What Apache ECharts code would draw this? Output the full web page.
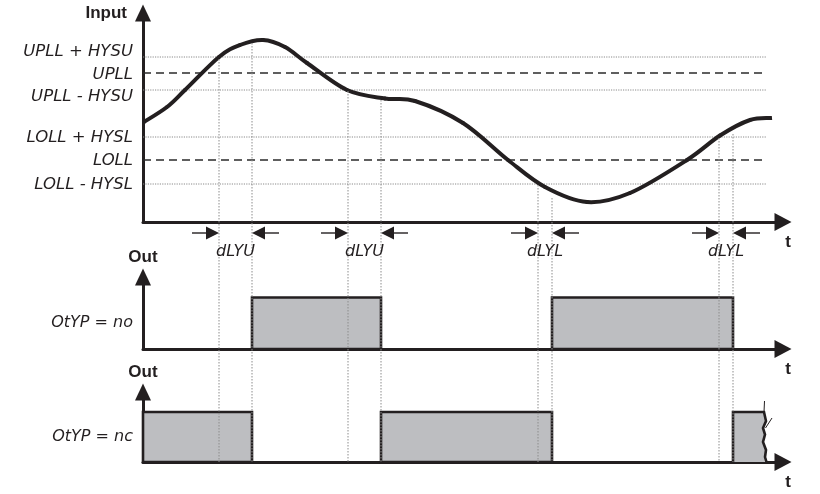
<!DOCTYPE html>
<html><head><meta charset="utf-8">
<script src="https://cdn.jsdelivr.net/npm/echarts@6/dist/echarts.min.js"></script>
<style>html,body{margin:0;padding:0;background:#fff}#c{width:820px;height:494px}</style>
</head><body><div id="c"></div>
<script>
// ---------- data ----------
const timeMax = 128;
const levelNames  = ['UPLL + HYSU', 'UPLL', 'UPLL - HYSU', 'LOLL + HYSL', 'LOLL', 'LOLL - HYSL'];
const levelValues = [82.5, 74.5, 66, 42.5, 31, 19];
const levelKinds  = ['hys', 'set', 'hys', 'hys', 'set', 'hys'];
const levelEnd = 124.8;
const curveTimes  = [0.2, 4.8, 8.4, 15.2, 19.4, 24, 28.4, 32.8, 40.8, 48.4, 54.4, 64, 73, 80.4, 88.8, 97.4, 108.8, 115.4, 121.4, 125.8];
const curveValues = [50, 57.5, 66, 82.5, 88.5, 91, 87.5, 79.5, 66, 61.75, 60.5, 49.5, 31, 17.5, 10, 14.5, 31, 43.25, 51, 52];
const delayStarts = [15.2, 41, 79, 115.2];
const delayEnds   = [21.8, 47.6, 81.8, 118];
const delayNames  = ['dLYU', 'dLYU', 'dLYL', 'dLYL'];
const delayStartTops = [82.5, 66.5, 19.5, 43];
const delayEndTops   = [90.5, 62, 13, 45];
const noStarts = [21.8, 81.8];
const noEnds   = [47.6, 118];
const ncStarts = [0, 47.6, 118];
const ncEnds   = [21.8, 81.8, 124.4];
const ncBroken = [0, 0, 1];
const outLabels = ['OtYP = no', 'OtYP = nc'];
const axisNames = ['Input', 'Out', 'Out', 't'];

// ---------- styling ----------
const ink = '#231f20';
const fillGray = '#bdbec1';
const segFont = '"DejaVu Sans"';
const guideBottom = -120; // bottom axis level expressed in input units
const chart = echarts.init(document.getElementById('c'));

function xAx(i) {
  return {
    type: 'value', gridIndex: i, min: 0, max: timeMax,
    axisLine: { show: true, onZero: false, symbol: ['none', 'triangle'], symbolSize: [18, 17], lineStyle: { color: ink, width: 3 } },
    axisTick: { show: false }, axisLabel: { show: false }, splitLine: { show: false },
    name: axisNames[3], nameLocation: 'end', nameGap: 5,
    nameTextStyle: { align: 'center', verticalAlign: 'top', padding: [12, 0, 0, 0], fontSize: 17, fontWeight: 'bold', fontFamily: 'Liberation Sans', color: ink }
  };
}
const richLevel = {
  r: { padding: [0, 0, 10, 0], fontSize: 16.5, fontStyle: 'italic', fontFamily: segFont, color: ink },
  d: { padding: [14, 0, 0, 0], fontSize: 16.5, fontStyle: 'italic', fontFamily: segFont, color: ink },
  s: { padding: [4, 0, 0, 0], fontSize: 16.5, fontStyle: 'italic', fontFamily: segFont, color: ink },
  n: { padding: [2, 0, 0, 0], fontSize: 16.5, fontStyle: 'italic', fontFamily: segFont, color: ink }
};
const levelRich = ['r', 's', 'd', 'n', 'n', 'n'];

const yAxes = [
  {
    type: 'value', gridIndex: 0, min: 0, max: 104.5,
    axisLine: { show: true, symbol: ['none', 'triangle'], symbolSize: [16, 17], lineStyle: { color: ink, width: 3 } },
    axisTick: { show: false }, splitLine: { show: false },
    axisLabel: {
      customValues: levelValues, margin: 10,
      formatter: function (v) { const i = levelValues.indexOf(v); return i < 0 ? '' : '{' + levelRich[i] + '|' + levelNames[i] + '}'; },
      rich: richLevel
    },
    name: axisNames[0], nameLocation: 'end', nameGap: 0,
    nameTextStyle: { align: 'right', verticalAlign: 'middle', padding: [0, 16, 0, 0], fontSize: 17, fontWeight: 'bold', fontFamily: 'Liberation Sans', color: ink }
  }
];
[1, 2].forEach(function (g) {
  yAxes.push({
    type: 'value', gridIndex: g, min: 0, max: 1.4,
    axisLine: { show: true, symbol: ['none', 'triangle'], symbolSize: [16, 17], lineStyle: { color: ink, width: 3 } },
    axisTick: { show: false }, splitLine: { show: false },
    axisLabel: {
      customValues: [0.5], margin: 10, padding: [0, 0, 6, 0],
      formatter: function () { return outLabels[g - 1]; },
      fontSize: 16, fontStyle: 'italic', fontFamily: segFont, color: ink
    },
    name: axisNames[g], nameLocation: 'end', nameGap: 20,
    nameTextStyle: { align: 'center', verticalAlign: 'middle', fontSize: 17, fontWeight: 'bold', fontFamily: 'Liberation Sans', color: ink }
  });
});

const series = [];
levelValues.forEach(function (v, i) {
  series.push({
    type: 'line', xAxisIndex: 0, yAxisIndex: 0, silent: true, showSymbol: false, symbol: 'none', z: 1,
    data: [[0, v], [levelEnd, v]],
    lineStyle: levelKinds[i] === 'set' ? { color: '#2b2b2b', width: 1.5, type: [8, 5] } : { color: '#8a8a8a', width: 1, type: [1.2, 1.2] }
  });
});
// input curve: Catmull-Rom segments through the read points
series.push({
  type: 'custom', xAxisIndex: 0, yAxisIndex: 0, clip: false, z: 6, silent: true,
  data: curveTimes.map(function (t, i) { return [t, curveValues[i]]; }), encode: { x: 0, y: 1 },
  renderItem: function (params, api) {
    const n = params.dataInsideLength, i = params.dataIndexInside;
    if (i >= n - 1) return null;
    function P(k) { k = Math.max(0, Math.min(n - 1, k)); return api.coord([api.value(0, k), api.value(1, k)]); }
    const p0 = P(i - 1), p1 = P(i), p2 = P(i + 1), p3 = P(i + 2);
    const c1 = [p1[0] + (p2[0] - p0[0]) / 6, p1[1] + (p2[1] - p0[1]) / 6];
    const c2 = [p2[0] - (p3[0] - p1[0]) / 6, p2[1] - (p3[1] - p1[1]) / 6];
    return { type: 'bezierCurve', shape: { x1: p1[0], y1: p1[1], cpx1: c1[0], cpy1: c1[1], cpx2: c2[0], cpy2: c2[1], x2: p2[0], y2: p2[1] },
      style: { stroke: ink, lineWidth: 4, fill: null, lineCap: i === 0 || i === n - 2 ? 'butt' : 'round' } };
  }
});
// dotted guides
const guideData = [];
delayStarts.forEach(function (t, i) { guideData.push([t, delayStartTops[i]]); guideData.push([delayEnds[i], delayEndTops[i]]); });
series.push({
  type: 'custom', xAxisIndex: 0, yAxisIndex: 0, clip: false, z: 8, silent: true,
  data: guideData, encode: { x: 0, y: 1 },
  renderItem: function (params, api) {
    const p = api.coord([api.value(0), api.value(1)]);
    const q = api.coord([api.value(0), guideBottom]);
    return { type: 'line', shape: { x1: p[0], y1: p[1] + 2, x2: q[0], y2: q[1] }, style: { stroke: '#8c8c8c', lineWidth: 1, lineDash: [1.5, 1.5] } };
  }
});
// delay arrows
series.push({
  type: 'custom', xAxisIndex: 0, yAxisIndex: 0, clip: false, z: 8, silent: true,
  data: delayStarts.map(function (t, i) { return [t, delayEnds[i], 0]; }), encode: { x: [0, 1], y: 2 },
  renderItem: function (params, api) {
    const a = api.coord([api.value(0), 0]);
    const b = api.coord([api.value(1), 0]);
    const y = a[1] + 11, L = 27, hd = 13, hw = 6.5;
    const st = { stroke: ink, lineWidth: 1.4 };
    return { type: 'group', children: [
      { type: 'line', shape: { x1: a[0] - L, y1: y, x2: a[0] - hd, y2: y }, style: st },
      { type: 'polygon', shape: { points: [[a[0] - hd, y - hw], [a[0], y], [a[0] - hd, y + hw]] }, style: { fill: ink } },
      { type: 'line', shape: { x1: b[0] + L, y1: y, x2: b[0] + hd, y2: y }, style: st },
      { type: 'polygon', shape: { points: [[b[0] + hd, y - hw], [b[0], y], [b[0] + hd, y + hw]] }, style: { fill: ink } },
      { type: 'text', style: { text: delayNames[params.dataIndex], x: (a[0] + b[0]) / 2, y: y + 19, align: 'center', verticalAlign: 'middle', fontSize: 16, fontStyle: 'italic', fontFamily: segFont, fill: ink } }
    ] };
  }
});
function renderPulse(params, api) {
  const a = api.coord([api.value(0), api.value(2)]);
  const b = api.coord([api.value(1), 0]);
  const x0 = a[0], y0 = a[1], x1 = b[0], y1 = b[1], h = y1 - y0;
  if (api.value(3) !== 1) {
    return { type: 'rect', shape: { x: x0, y: y0, width: x1 - x0, height: h }, style: { fill: fillGray, stroke: ink, lineWidth: 2.6 } };
  }
  const wave = [[x1 - 1, y0], [x1 + 1, y0 + 0.18 * h], [x1 - 2, y0 + 0.32 * h], [x1, y0 + 0.45 * h], [x1 - 2, y0 + 0.6 * h], [x1 + 1, y0 + 0.76 * h], [x1, y0 + 0.9 * h], [x1 + 1.5, y1]];
  const pts = [[x0, y1], [x0, y0]].concat(wave);
  return { type: 'group', children: [
    { type: 'polygon', shape: { points: pts }, style: { fill: fillGray } },
    { type: 'polyline', shape: { points: pts }, style: { stroke: ink, lineWidth: 2.6, fill: null } },
    { type: 'line', shape: { x1: x1 - 1, y1: y0, x2: x1 - 0.5, y2: y0 - 11 }, style: { stroke: ink, lineWidth: 1 } },
    { type: 'line', shape: { x1: x1 + 0.5, y1: y0 + 0.32 * h, x2: x1 + 7, y2: y0 + 0.12 * h }, style: { stroke: ink, lineWidth: 1 } }
  ] };
}
series.push({
  type: 'custom', xAxisIndex: 1, yAxisIndex: 1, clip: false, z: 3, silent: true,
  data: noStarts.map(function (t, i) { return [t, noEnds[i], 1, 0]; }), encode: { x: [0, 1], y: 2 },
  renderItem: renderPulse
});
series.push({
  type: 'custom', xAxisIndex: 2, yAxisIndex: 2, clip: false, z: 3, silent: true,
  data: ncStarts.map(function (t, i) { return [t, ncEnds[i], 1, ncBroken[i]]; }), encode: { x: [0, 1], y: 2 },
  renderItem: renderPulse
});

chart.setOption({
  animation: false,
  backgroundColor: '#ffffff',
  grid: [
    { left: 143, width: 640, top: 13, height: 209 },
    { left: 143, width: 640, top: 277, height: 72 },
    { left: 143, width: 640, top: 392, height: 70 }
  ],
  xAxis: [xAx(0), xAx(1), xAx(2)],
  yAxis: yAxes,
  series: series
});
</script></body></html>
